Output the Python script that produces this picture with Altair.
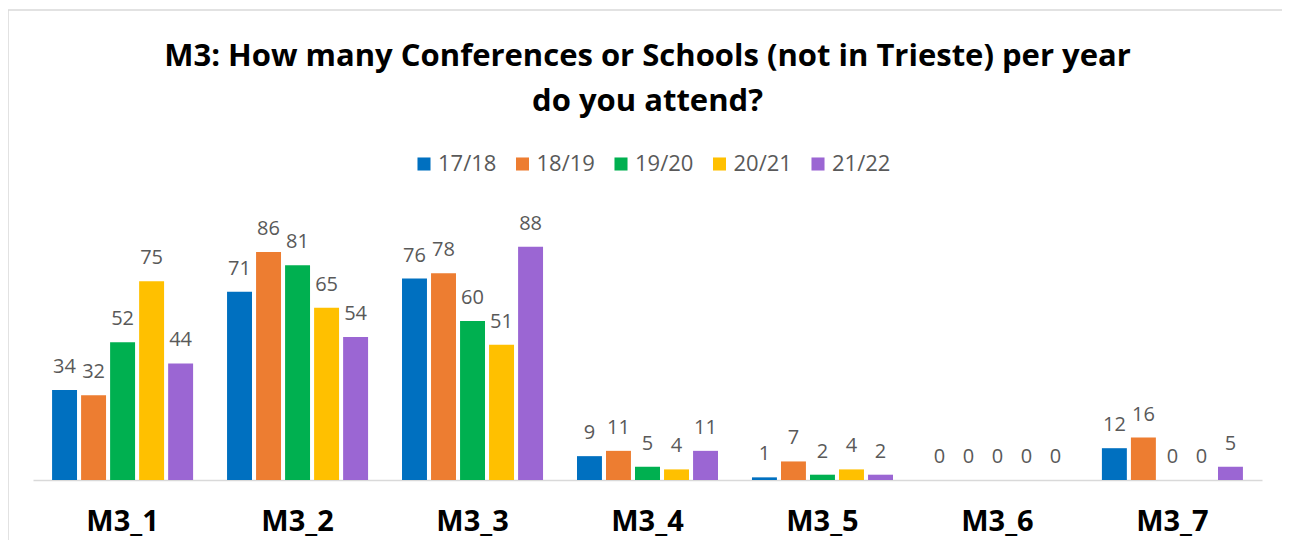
import altair as alt
import pandas as pd

categories = ["M3_1", "M3_2", "M3_3", "M3_4", "M3_5", "M3_6", "M3_7"]
years = ["17/18", "18/19", "19/20", "20/21", "21/22"]
v_1718 = [34, 71, 76, 9, 1, 0, 12]
v_1819 = [32, 86, 78, 11, 7, 0, 16]
v_1920 = [52, 81, 60, 5, 2, 0, 0]
v_2021 = [75, 65, 51, 4, 4, 0, 0]
v_2122 = [44, 54, 88, 11, 2, 0, 5]
colors = ["#0070C0", "#ED7D31", "#00B050", "#FFC000", "#9B66D3"]

rows = []
for y, vals in zip(years, [v_1718, v_1819, v_1920, v_2021, v_2122]):
    for c, v in zip(categories, vals):
        rows.append({"cat": c, "year": y, "value": v})
df = pd.DataFrame(rows)

W, H = 1229, 265

x = alt.X("cat:N", sort=categories, title=None,
          scale=alt.Scale(paddingInner=0.194, paddingOuter=0.109),
          axis=alt.Axis(labelAngle=0, labelFontSize=29, labelFontWeight="bold",
                        labelColor="#000000", labelFont="Open Sans", labelPadding=27,
                        ticks=False, domainColor="#D9D9D9", domainWidth=1.5))
xo = alt.XOffset("year:N", sort=years, scale=alt.Scale(paddingInner=0.14))
y = alt.Y("value:Q", scale=alt.Scale(domain=[0, 100]), axis=None)

bars = alt.Chart(df).mark_bar().encode(
    x=x, xOffset=xo, y=y,
    color=alt.Color("year:N", sort=years,
                    scale=alt.Scale(domain=years, range=colors),
                    legend=alt.Legend(title=None, orient="none", direction="horizontal",
                                      legendX=380, legendY=-62, symbolType="square",
                                      symbolSize=170, symbolStrokeWidth=0,
                                      labelFontSize=22, labelColor="#595959",
                                      labelFont="Open Sans", columnPadding=14.5,
                                      labelOffset=3)),
)

labels = alt.Chart(df).mark_text(dy=-17, baseline="alphabetic", fontSize=20,
                                 color="#595959", font="Open Sans").encode(
    x=x, xOffset=xo, y=y, text="value:Q"
)

border = alt.Chart(pd.DataFrame({"a": [0]})).mark_rect(
    fill=None, stroke="#D9D9D9", strokeWidth=1.5
).encode(x=alt.value(-25), x2=alt.value(1253), y=alt.value(-205), y2=alt.value(340))

chart = alt.layer(border, bars, labels).properties(
    width=W, height=H,
    title=alt.Title(["M3: How many Conferences or Schools (not in Trieste) per year", "do you attend?"],
                    fontSize=31, font="Open Sans", fontWeight="bold", color="#000000",
                    anchor="middle", lineHeight=45, offset=0, dy=109, frame="group"),
    autosize=alt.AutoSizeParams(type="none"),
    padding={"left": 25, "top": 207, "right": 20, "bottom": 60},
).configure_view(stroke=None)

chart.save("out.html", embed_options={"renderer": "svg", "actions": False})
